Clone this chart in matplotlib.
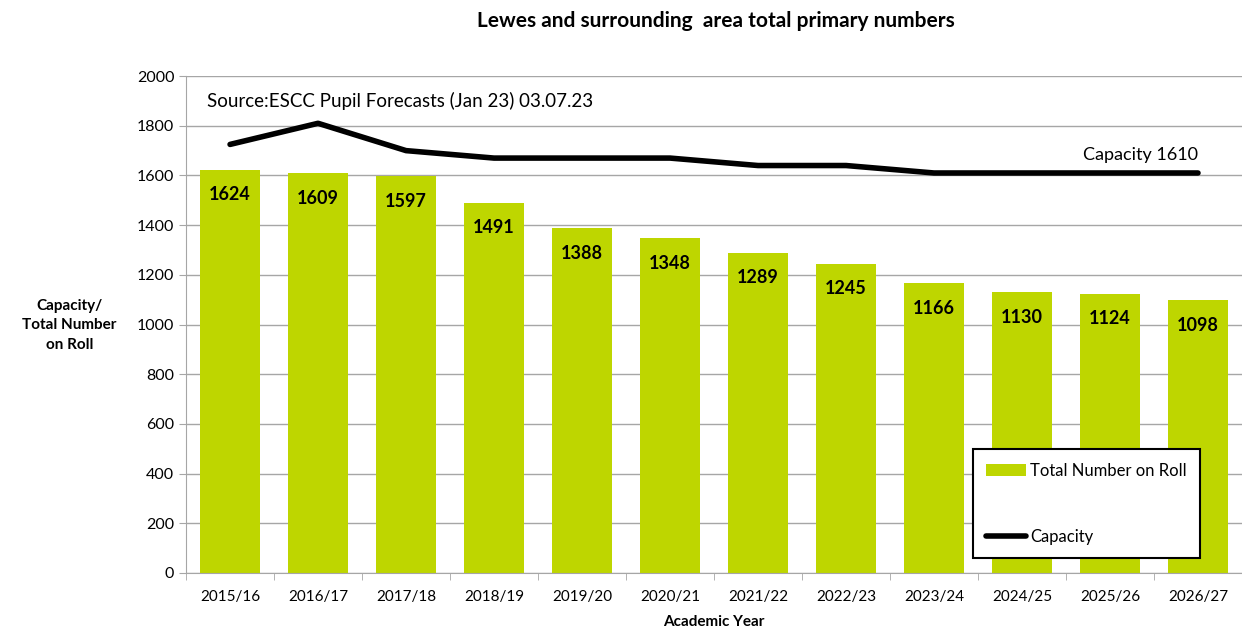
import matplotlib
matplotlib.use('Agg')

import matplotlib.pyplot as plt
import numpy as np

plt.rcParams['font.family'] = ['Lato', 'DejaVu Sans']

years = ['2015/16', '2016/17', '2017/18', '2018/19', '2019/20', '2020/21',
         '2021/22', '2022/23', '2023/24', '2024/25', '2025/26', '2026/27']
on_roll = [1624, 1609, 1597, 1491, 1388, 1348, 1289, 1245, 1166, 1130, 1124, 1098]
capacity = [1725, 1810, 1700, 1670, 1670, 1670, 1640, 1640, 1610, 1610, 1610, 1610]

bar_color = '#BED600'
grid_color = '#A6A6A6'

fig = plt.figure(figsize=(12.42, 6.33), dpi=100)
ax = fig.add_axes([0.1498, 0.0948, 0.8502, 0.785])

x = np.arange(len(years))
bars = ax.bar(x, on_roll, width=0.68, color=bar_color, label='Total Number on Roll', zorder=2)
line, = ax.plot(x, capacity, color='black', linewidth=4, solid_capstyle='round',
                label='Capacity', zorder=3)

# value labels inside the bar tops
for xi, v in zip(x, on_roll):
    ax.annotate(str(v), (xi, v), xytext=(0, -18), textcoords='offset points',
                ha='center', va='center', fontsize=13, fontweight='bold', zorder=4)

ax.text(x[-1], capacity[-1] + 40, 'Capacity 1610', ha='right', va='bottom', fontsize=13)
ax.text(0.02, 0.95, 'Source:ESCC Pupil Forecasts (Jan 23) 03.07.23',
        transform=ax.transAxes, ha='left', va='center', fontsize=13.5)

ax.set_xlim(-0.5, len(years) - 0.5)
ax.set_ylim(0, 2000)
ax.set_yticks(np.arange(0, 2001, 200))
ax.set_xticks(x)
ax.set_xticklabels(years, fontsize=11)
ax.set_xticks(np.arange(-0.5, len(years), 1), minor=True)
ax.tick_params(axis='x', which='major', length=0, pad=12)
ax.tick_params(axis='x', which='minor', length=5, color=grid_color, direction='out')
ax.tick_params(axis='y', length=5, color=grid_color, labelsize=11.5)

ax.grid(axis='y', color=grid_color, linewidth=1, zorder=0)
ax.set_axisbelow(True)
for side in ['top', 'right']:
    ax.spines[side].set_visible(False)
for side in ['left', 'bottom']:
    ax.spines[side].set_color(grid_color)

ax.set_xlabel('Academic Year', fontsize=11, fontweight='bold', labelpad=8)
fig.text(0.056, 0.486, 'Capacity/\nTotal Number\non Roll', ha='center', va='center',
         fontsize=11, fontweight='bold', linespacing=1.5)
fig.text(0.576, 0.967, 'Lewes and surrounding  area total primary numbers',
         ha='center', va='center', fontsize=15, fontweight='bold')

leg = ax.legend([bars, line], ['Total Number on Roll', 'Capacity'],
                loc='lower right', bbox_to_anchor=(0.96, 0.03), fontsize=12,
                frameon=True, fancybox=False, edgecolor='black', framealpha=1,
                labelspacing=3.0, handlelength=2.4, handletextpad=0.2, borderpad=0.8,
                borderaxespad=0)
leg.get_frame().set_linewidth(1.5)

plt.savefig('out.png', dpi=100)
plt.close()
